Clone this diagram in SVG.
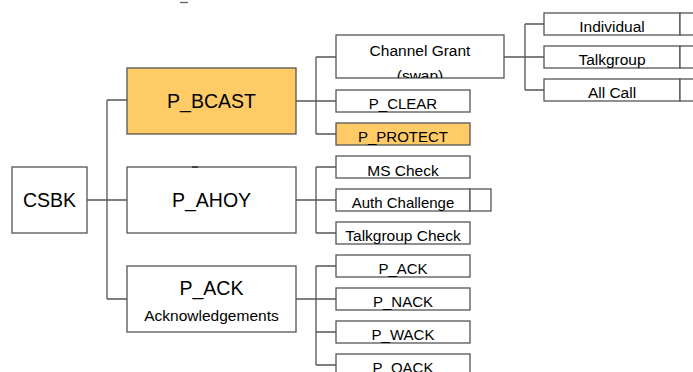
<svg xmlns="http://www.w3.org/2000/svg" width="693" height="372" viewBox="0 0 693 372">
<style>
.b{fill:#fff;stroke:#555;stroke-width:1.3}
.o{fill:#fecb66;stroke:#555;stroke-width:1.3}
.c{fill:none;stroke:#555;stroke-width:1.3}
text{font-family:"Liberation Sans",Arial,sans-serif;fill:#000;text-anchor:middle}
.L{font-size:19.5px}
.S{font-size:15px}
.T{font-size:15.5px}
</style>
<defs>
<clipPath id="cg"><rect x="336" y="35" width="168" height="43"/></clipPath>
</defs>
<rect width="693" height="372" fill="#fff"/>
<line x1="180" y1="2.5" x2="188" y2="2.5" stroke="#666" stroke-width="1.3"/>
<g id="connectors" class="c">
<path d="M87 200H127M107 100V299M107 100H127M107 299H127"/>
<path d="M296 101H336M316 57V134M316 57H336M316 134H336"/>
<path d="M296 200H336M316 167V233M316 167H336M316 233H336"/>
<path d="M296 299H336M316 266V365M316 266H336M316 332H336M316 365H336"/>
<path d="M504 57H544M525 24V90M525 24H544M525 90H544"/>
</g>
<g id="csbk"><rect class="b" x="12" y="167" width="75" height="66"/><text class="L" x="49.5" y="207">CSBK</text></g>
<g id="p_bcast"><rect class="o" x="127" y="68" width="169" height="66"/><text class="L" x="211.5" y="108">P_BCAST</text></g>
<g id="p_ahoy"><rect class="b" x="127" y="167" width="169" height="66"/><line x1="192" y1="167" x2="198" y2="167" stroke="#333" stroke-width="1.6"/><text class="L" x="211.5" y="207">P_AHOY</text></g>
<g id="p_ack"><rect class="b" x="127" y="266" width="169" height="66"/><text class="L" x="211.5" y="295">P_ACK</text><text class="T" x="211.5" y="321">Acknowledgements</text></g>
<g id="channel_grant"><rect class="b" x="336" y="35" width="168" height="43"/><text class="T" x="420" y="56">Channel Grant</text><text class="T" x="420" y="81" clip-path="url(#cg)">(swap)</text></g>
<g id="p_clear"><rect class="b" x="336" y="90" width="134" height="22"/><text class="S" x="403" y="109">P_CLEAR</text></g>
<g id="p_protect"><rect class="o" x="336" y="123" width="134" height="22"/><text class="S" x="403" y="142">P_PROTECT</text></g>
<g id="ms_check"><rect class="b" x="336" y="156" width="134" height="22"/><text class="T" x="403" y="175.5">MS Check</text></g>
<g id="auth_challenge"><rect class="b" x="336" y="189" width="134" height="22"/><rect class="b" x="470" y="189" width="21" height="22"/><text class="S" x="403" y="208">Auth Challenge</text></g>
<g id="talkgroup_check"><rect class="b" x="336" y="222" width="134" height="22"/><text class="T" x="403" y="241">Talkgroup Check</text></g>
<g id="p_ack2"><rect class="b" x="336" y="255" width="134" height="22"/><text class="S" x="403" y="274">P_ACK</text></g>
<g id="p_nack"><rect class="b" x="336" y="288" width="134" height="22"/><text class="S" x="403" y="307">P_NACK</text></g>
<g id="p_wack"><rect class="b" x="336" y="321" width="134" height="22"/><text class="S" x="403" y="340">P_WACK</text></g>
<g id="p_qack"><rect class="b" x="336" y="354" width="134" height="22"/><text class="S" x="403" y="373">P_QACK</text></g>
<g id="individual"><rect class="b" x="544" y="13" width="136" height="22"/><rect class="b" x="680" y="13" width="30" height="22"/><text class="T" x="612" y="32">Individual</text></g>
<g id="talkgroup"><rect class="b" x="544" y="46" width="136" height="22"/><rect class="b" x="680" y="46" width="30" height="22"/><text class="T" x="612" y="65">Talkgroup</text></g>
<g id="all_call"><rect class="b" x="544" y="79" width="136" height="22"/><rect class="b" x="680" y="79" width="30" height="22"/><text class="T" x="612" y="97.5">All Call</text></g>
</svg>
